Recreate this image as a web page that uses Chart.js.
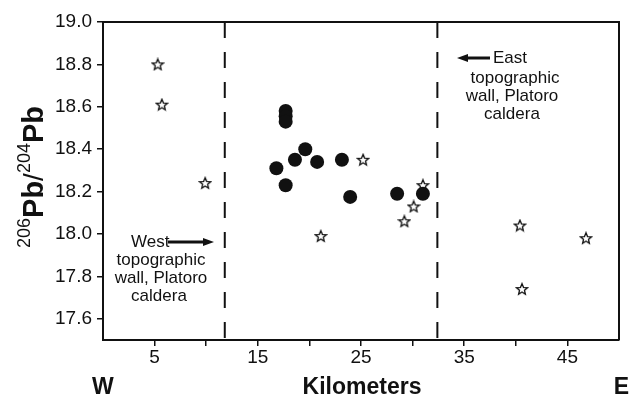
<!DOCTYPE html>
<html lang="en">
<head>
<meta charset="UTF-8">
<title>Pb isotopes vs distance</title>
<script src="https://cdn.jsdelivr.net/npm/chart.js"></script>
<style>
  body { margin: 0; background: #fff; }
  #wrap { width: 629px; height: 398px; }
</style>
</head>
<body>
<div id="wrap"><canvas id="grafico" width="629" height="398"></canvas></div>
<script>
// data (km along W-E line, 206Pb/204Pb)
var circleX = [17.7, 17.7, 17.7, 16.8, 17.7, 18.6, 19.6, 20.75, 23.15, 23.95, 28.5, 31.0];
var circleY = [18.58, 18.555, 18.53, 18.31, 18.23, 18.35, 18.40, 18.34, 18.35, 18.175, 18.19, 18.19];
var starX = [5.3, 5.7, 9.9, 25.2, 21.1, 29.2, 30.1, 31.0, 40.4, 46.8, 40.6];
var starY = [18.80, 18.61, 18.24, 18.35, 17.99, 18.06, 18.13, 18.23, 18.04, 17.98, 17.74];
var wallWest = 11.8;
var wallEast = 32.4;
var xTicks = [5, 10, 15, 20, 25, 30, 35, 40, 45];
var xLabels = [5, 15, 25, 35, 45];
var yTicks = [17.6, 17.8, 18.0, 18.2, 18.4, 18.6, 18.8, 19.0];

var fonte = '"Liberation Sans", Arial, sans-serif';

function fazerEstrela() {
  var c = document.createElement('canvas');
  c.width = 14; c.height = 14;
  var g = c.getContext('2d');
  g.beginPath();
  for (var i = 0; i < 10; i++) {
    var r = (i % 2 === 0) ? 5.8 : 2.6;
    var a = -Math.PI / 2 + i * Math.PI / 5;
    var px = 7 + r * Math.cos(a), py = 7.4 + r * Math.sin(a);
    if (i === 0) g.moveTo(px, py); else g.lineTo(px, py);
  }
  g.closePath();
  g.fillStyle = '#fff';
  g.fill();
  g.lineWidth = 1.3;
  g.strokeStyle = '#111';
  g.stroke();
  return c;
}

function seta(ctx, x1, x2, y) {
  // shaft from x1 to x2, head at x2
  var dir = x2 > x1 ? 1 : -1;
  ctx.beginPath();
  ctx.lineWidth = 3;
  ctx.moveTo(x1, y);
  ctx.lineTo(x2 - dir * 8, y);
  ctx.stroke();
  ctx.beginPath();
  ctx.moveTo(x2, y);
  ctx.lineTo(x2 - dir * 11, y - 4);
  ctx.lineTo(x2 - dir * 11, y + 4);
  ctx.closePath();
  ctx.fill();
}

var decoracao = {
  id: 'decoracao',
  beforeDatasetsDraw: function (chart) {
    var ctx = chart.ctx, a = chart.chartArea, sx = chart.scales.x;
    ctx.save();
    ctx.strokeStyle = '#111';
    ctx.lineWidth = 2;
    ctx.setLineDash([16, 14]);
    [wallWest, wallEast].forEach(function (v) {
      var px = sx.getPixelForValue(v);
      ctx.beginPath();
      ctx.moveTo(px, a.top);
      ctx.lineTo(px, a.bottom);
      ctx.stroke();
    });
    ctx.restore();
  },
  afterDraw: function (chart) {
    var ctx = chart.ctx, a = chart.chartArea;
    ctx.save();
    ctx.strokeStyle = '#111';
    ctx.fillStyle = '#111';
    ctx.lineWidth = 2;
    ctx.beginPath();
    ctx.moveTo(a.left, a.top);
    ctx.lineTo(a.right, a.top);
    ctx.lineTo(a.right, a.bottom);
    ctx.stroke();

    // axis title below
    ctx.textBaseline = 'alphabetic';
    ctx.textAlign = 'center';
    ctx.font = 'bold 23px ' + fonte;
    ctx.fillText('Kilometers', 362, 394);
    ctx.textAlign = 'left';
    ctx.fillText('W', 92, 394);
    ctx.textAlign = 'right';
    ctx.fillText('E', 629, 394);

    // y title with superscripts
    ctx.save();
    ctx.translate(43, 177);
    ctx.rotate(-Math.PI / 2);
    var partes = [
      { t: '206', f: '18px ' + fonte, y: -13 },
      { t: 'Pb', f: 'bold 29px ' + fonte, y: 0 },
      { t: '/', f: '28px ' + fonte, y: 0 },
      { t: '204', f: '18px ' + fonte, y: -13 },
      { t: 'Pb', f: 'bold 29px ' + fonte, y: 0 }
    ];
    var total = 0;
    partes.forEach(function (p) { ctx.font = p.f; p.w = ctx.measureText(p.t).width; total += p.w; });
    var x = -total / 2;
    ctx.textAlign = 'left';
    partes.forEach(function (p) { ctx.font = p.f; ctx.fillText(p.t, x, p.y); x += p.w; });
    ctx.restore();

    // annotations
    ctx.font = '17px ' + fonte;
    ctx.textBaseline = 'middle';
    ctx.textAlign = 'left';
    ctx.fillText('West', 131, 242);
    seta(ctx, 168, 214, 242);
    ctx.textAlign = 'center';
    ctx.fillText('topographic', 161, 260);
    ctx.fillText('wall, Platoro', 161, 278);
    ctx.fillText('caldera', 159, 296);

    ctx.textAlign = 'left';
    ctx.fillText('East', 493, 58);
    seta(ctx, 490, 457, 58);
    ctx.textAlign = 'center';
    ctx.fillText('topographic', 515, 78);
    ctx.fillText('wall, Platoro', 512, 96);
    ctx.fillText('caldera', 512, 114);
    ctx.restore();
  }
};

var pontosCirculo = circleX.map(function (v, i) { return { x: v, y: circleY[i] }; });
var pontosEstrela = starX.map(function (v, i) { return { x: v, y: starY[i] }; });

var ctx = document.getElementById('grafico').getContext('2d');
new Chart(ctx, {
  type: 'scatter',
  data: {
    datasets: [{
      label: 'circles',
      data: pontosCirculo,
      pointStyle: 'circle',
      pointRadius: 7,
      backgroundColor: '#111',
      borderColor: '#111',
      borderWidth: 0
    }, {
      label: 'stars',
      data: pontosEstrela,
      pointStyle: fazerEstrela(),
      pointRadius: 6
    }]
  },
  options: {
    responsive: false,
    animation: false,
    layout: { padding: { top: 22, right: 10, left: 0, bottom: 0 } },
    plugins: { legend: { display: false }, tooltip: { enabled: false } },
    scales: {
      x: {
        type: 'linear',
        min: 0,
        max: 50,
        afterFit: function (s) { s.height = 58; },
        afterBuildTicks: function (s) { s.ticks = xTicks.map(function (v) { return { value: v }; }); },
        ticks: {
          autoSkip: false,
          maxRotation: 0,
          padding: 0,
          color: '#111',
          font: { family: fonte, size: 19 },
          callback: function (v) { return xLabels.indexOf(v) >= 0 ? String(v) : ''; }
        },
        grid: { drawOnChartArea: false, color: '#111', lineWidth: 1.5, tickLength: 6 },
        border: { color: '#111', width: 2 }
      },
      y: {
        type: 'linear',
        min: 17.5,
        max: 19.0,
        afterFit: function (s) { s.width = 103; },
        afterBuildTicks: function (s) { s.ticks = yTicks.map(function (v) { return { value: v }; }); },
        ticks: {
          padding: 5,
          color: '#111',
          font: { family: fonte, size: 19 },
          callback: function (v) { return Number(v).toFixed(1); }
        },
        grid: { drawOnChartArea: false, color: '#111', lineWidth: 1.5, tickLength: 6 },
        border: { color: '#111', width: 2 }
      }
    }
  },
  plugins: [decoracao]
});
</script>
</body>
</html>
